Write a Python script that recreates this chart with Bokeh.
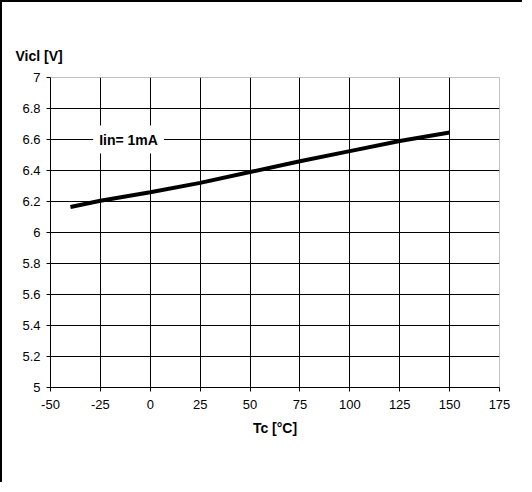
from bokeh.plotting import figure
from bokeh.models import FixedTicker, Label, Range1d, Title
from bokeh.embed import file_html
from bokeh.resources import INLINE

# data
temp_c = [-40, -25, 0, 25, 50, 75, 100, 125, 150]
vicl_v = [6.165, 6.205, 6.26, 6.32, 6.39, 6.46, 6.525, 6.59, 6.645]
x_ticks = [-50, -25, 0, 25, 50, 75, 100, 125, 150, 175]
x_tick_labels = ["-50", "-25", "0", "25", "50", "75", "100", "125", "150", "175"]
y_ticks = [5, 5.2, 5.4, 5.6, 5.8, 6, 6.2, 6.4, 6.6, 6.8, 7]
y_tick_labels = ["5", "5.2", "5.4", "5.6", "5.8", "6", "6.2", "6.4", "6.6", "6.8", "7"]
x_title = "Tc [°C]"
y_title = "Vicl [V]"
series_label = "Iin= 1mA"

FONT = "Liberation Sans"

p = figure(width=522, height=482, output_backend="svg", toolbar_location=None,
           x_range=Range1d(-50, 175), y_range=Range1d(5, 7),
           min_border_left=48, min_border_right=25, min_border_top=75, min_border_bottom=97)
p.styles = {"border-left": "2px solid black", "border-top": "2px solid black"}
p.background_fill_color = "white"
p.border_fill_color = "white"
p.outline_line_color = "#c0c0c0"
p.outline_line_width = 1

for ax in (p.xaxis[0], p.yaxis[0]):
    ax.axis_line_color = "black"
    ax.axis_line_width = 1
    ax.major_tick_line_color = "black"
    ax.major_tick_in = 0
    ax.major_tick_out = 4
    ax.minor_tick_line_color = None
    ax.major_label_text_font = FONT
    ax.major_label_text_font_size = "13px"
    ax.major_label_text_color = "black"

p.xaxis.ticker = FixedTicker(ticks=x_ticks)
p.yaxis.ticker = FixedTicker(ticks=y_ticks)
p.xaxis.major_label_overrides = {t: l for t, l in zip(x_ticks, x_tick_labels)}
p.yaxis.major_label_overrides = {t: l for t, l in zip(y_ticks, y_tick_labels)}
p.xaxis.major_label_standoff = 8
p.yaxis.major_label_standoff = 6

p.xaxis.axis_label = x_title
p.xaxis.axis_label_text_font = FONT
p.xaxis.axis_label_text_font_style = "bold"
p.xaxis.axis_label_text_font_size = "14px"
p.xaxis.axis_label_text_color = "black"
p.xaxis.axis_label_standoff = 8

p.xgrid.ticker = FixedTicker(ticks=x_ticks[1:-1])
p.ygrid.ticker = FixedTicker(ticks=y_ticks[1:-1])
for g in (p.xgrid[0], p.ygrid[0]):
    g.grid_line_color = "black"
    g.grid_line_width = 1

p.line(temp_c, vicl_v, line_color="black", line_width=4)

p.title = Title(text=y_title, text_font=FONT, text_font_style="bold", text_font_size="14px",
                align="left", offset=-35, standoff=27, text_color="black")

p.add_layout(Label(x=-10.9, y=6.6, text=series_label, text_font=FONT, text_font_style="bold",
                   text_font_size="14px", text_align="center", text_baseline="middle",
                   text_color="black", background_fill_color="white", padding=6))

open("out.html", "w").write(file_html(p, INLINE))
